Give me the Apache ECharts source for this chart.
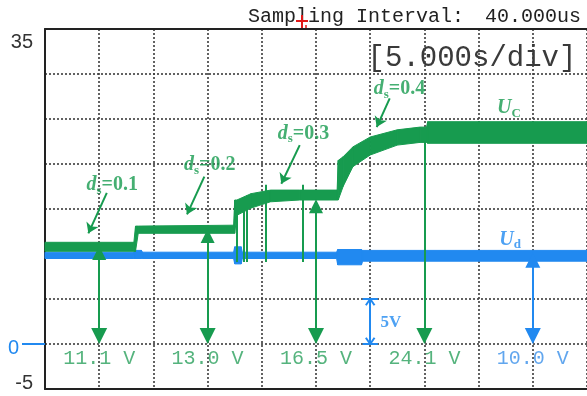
<!DOCTYPE html>
<html>
<head>
<meta charset="utf-8">
<script src="https://cdn.jsdelivr.net/npm/echarts@6/dist/echarts.min.js"></script>
<style>html,body{margin:0;padding:0;background:#fff}#c{width:587px;height:396px}</style>
</head>
<body>
<div id="c"></div>
<script>
// ---------- data (time in s, voltage in V) ----------
const ucTime = [0, 8.2, 8.35, 8.6, 17.4, 17.5, 17.7, 19.0, 20.8, 23.5, 26.95, 27.05, 27.5, 28.4, 30.0, 32.5, 34.6, 35.2, 35.3, 50];
const ucLow  = [10.3, 10.3, 10.3, 12.3, 12.3, 12.3, 14.3, 15.1, 15.8, 16.0, 16.0, 16.0, 17.5, 19.7, 21.0, 22.1, 22.4, 22.4, 22.3, 22.3];
const ucHigh = [11.3, 11.3, 13.1, 13.1, 13.2, 16.0, 16.0, 16.7, 17.1, 17.1, 17.1, 20.4, 20.8, 21.9, 23.0, 23.8, 24.1, 24.1, 24.7, 24.7];

const udTime = [0, 8.2, 8.3, 8.9, 9.0, 17.4, 17.5, 18.1, 18.2, 26.9, 27.0, 29.2, 29.3, 50];
const udLow  = [9.5, 9.5, 9.5, 9.5, 9.5, 9.5, 8.9, 8.9, 9.5, 9.5, 8.8, 8.8, 9.2, 9.2];
const udHigh = [10.2, 10.2, 10.4, 10.4, 10.2, 10.2, 10.8, 10.8, 10.2, 10.2, 10.5, 10.5, 10.4, 10.4];

const spikeTimes  = [17.7, 18.3, 18.6, 20.4, 23.8];
const spikeTop    = [16.0, 16.3, 16.5, 17.7, 17.7];
const spikeBottom = [9.1, 9.1, 9.1, 9.1, 9.1];

const measureTimes = [5, 15, 25, 35, 45];
const measureFrom  = [10.1, 12.0, 15.3, 22.4, 9.3];
const measureTexts = ['11.1 V', '13.0 V', '16.5 V', '24.1 V', '10.0 V'];
const measureChannel = ['C', 'C', 'C', 'C', 'd'];

const dsTexts  = ['0.1', '0.2', '0.3', '0.4'];
const dsLabelAt = [[6.2, 17.7], [15.2, 19.9], [23.85, 23.4], [32.7, 28.3]];
const dsArrowFrom = [[5.7, 16.8], [14.7, 18.6], [23.5, 22.1], [31.8, 27.3]];
const dsArrowTo   = [[4.0, 12.3], [13.1, 14.4], [21.8, 17.8], [30.6, 24.1]];

const traceNames = ['C', 'd'];
const traceLabelAt = [[42.8, 26.2], [42.9, 11.6]];

const scaleBarTime = 30;
const scaleBarRange = [0, 5];
const scaleBarText = '5V';
const scaleBarLabelAt = [31.9, 2.4];

const yLabelValues = [35, 0, -5];
const yLabelTexts  = ['35', '0', '-5'];

// ---------- styles ----------
const GREEN = '#179b4f';
const GREEN_TXT = '#2ba05d';
const BLUE = '#2189f0';
const BLUE_TXT = '#3a90ea';
const GRID = { color: '#3c3c3c', width: 1.6, type: [2, 2] };

function bandRender(color) {
  return function (params, api) {
    const i = params.dataIndexInside;
    if (i >= params.dataInsideLength - 1) return;
    const pts = [
      api.coord([api.value(0, i), api.value(1, i)]),
      api.coord([api.value(0, i), api.value(2, i)]),
      api.coord([api.value(0, i + 1), api.value(2, i + 1)]),
      api.coord([api.value(0, i + 1), api.value(1, i + 1)])
    ];
    return { type: 'polygon', shape: { points: pts }, style: { fill: color, stroke: color, lineWidth: 1 } };
  };
}

const ucData = ucTime.map((t, i) => [t, ucLow[i], ucHigh[i]]);
const udData = udTime.map((t, i) => [t, udLow[i], udHigh[i]]);

const ARROW_END = 0.9; // half arrow-head height, in volts, so the tip meets 0 V
const measureLine = (i) => ({ coords: [[measureTimes[i], measureFrom[i]], [measureTimes[i], scaleBarRange[0] + ARROW_END]] });

const capHalf = 0.7, chevW = 0.4, chevH = 0.7;
const sb0 = scaleBarRange[0], sb1 = scaleBarRange[1], st = scaleBarTime;
const scaleSegs = [
  [[st, sb0], [st, sb1]],
  [[st - capHalf, sb1], [st + capHalf, sb1]],
  [[st - capHalf, sb0], [st + capHalf, sb0]],
  [[st - chevW, sb1 - chevH], [st, sb1]], [[st + chevW, sb1 - chevH], [st, sb1]],
  [[st - chevW, sb0 + chevH], [st, sb0]], [[st + chevW, sb0 + chevH], [st, sb0]]
].map(c => ({ coords: c }));

const serifRich = (color) => ({
  d: { fontFamily: 'Liberation Serif', fontStyle: 'italic', fontWeight: 'bold', fontSize: 20, color: color },
  s: { fontFamily: 'Liberation Serif', fontWeight: 'bold', fontSize: 13, color: color, padding: [11, 0, 0, 0] },
  e: { fontFamily: 'Liberation Serif', fontWeight: 'bold', fontSize: 20, color: color }
});

const chart = echarts.init(document.getElementById('c'));
const option = {
  animation: false,
  grid: { left: 45, right: 0, top: 29, bottom: 7 },
  xAxis: [
    {
      type: 'value', min: 0, max: 50, interval: 5,
      axisLine: { show: true, onZero: false, lineStyle: { color: '#222', width: 2 } },
      axisTick: { show: false }, axisLabel: { show: false },
      splitLine: { show: true, lineStyle: GRID }
    },
    {
      type: 'value', position: 'top', min: 0, max: 50,
      axisLine: { show: true, onZero: false, lineStyle: { color: '#222', width: 2 } },
      axisTick: { show: false }, axisLabel: { show: false }, splitLine: { show: false }
    }
  ],
  yAxis: {
    type: 'value', min: -5, max: 35, interval: 5,
    axisLine: { show: true, onZero: false, lineStyle: { color: '#222', width: 2 } },
    axisTick: { show: false },
    splitLine: { show: true, lineStyle: GRID },
    axisLabel: {
      margin: 0, showMinLabel: true, showMaxLabel: true,
      formatter: function (v) {
        const k = yLabelValues.indexOf(v);
        if (k < 0) return '';
        if (v === 35) return '{a|' + yLabelTexts[k] + '}';
        if (v === 0) return '{z|' + yLabelTexts[k] + '}{ln| }';
        return '{m|' + yLabelTexts[k] + '}';
      },
      rich: {
        a: { fontFamily: 'Liberation Sans', fontSize: 20, color: '#333', padding: [26, 12, 0, 0] },
        z: { fontFamily: 'Liberation Sans', fontSize: 20, color: BLUE, padding: [8, 3, 0, 0] },
        ln: { width: 23, height: 2, fontSize: 2, lineHeight: 2, backgroundColor: BLUE },
        m: { fontFamily: 'Liberation Sans', fontSize: 20, color: '#333', padding: [0, 12, 12, 0] }
      }
    }
  },
  graphic: [
    { type: 'text', x: 248, y: 17, style: { text: 'Sampling Interval:', font: '20px "Liberation Mono"', fill: '#222', align: 'left', verticalAlign: 'middle' } },
    { type: 'text', x: 581, y: 17, style: { text: '40.000us', font: '20px "Liberation Mono"', fill: '#222', align: 'right', verticalAlign: 'middle' } },
    { type: 'text', x: 472, y: 58, style: { text: '[5.000s/div]', font: '29px "Liberation Mono"', fill: '#3a3a3a', align: 'center', verticalAlign: 'middle' } },
    { type: 'line', shape: { x1: 296, y1: 21, x2: 308, y2: 21 }, style: { stroke: '#e01818', lineWidth: 2 } },
    { type: 'line', shape: { x1: 302, y1: 15, x2: 302, y2: 30 }, style: { stroke: '#e01818', lineWidth: 2 } },
    { type: 'line', shape: { x1: 306, y1: 25, x2: 306, y2: 30 }, style: { stroke: '#e01818', lineWidth: 1.5 } }
  ],
  series: [
    { type: 'custom', name: 'Ud', data: udData, encode: { x: 0, y: [1, 2] }, renderItem: bandRender(BLUE), silent: true, z: 3 },
    { type: 'custom', name: 'Uc', data: ucData, encode: { x: 0, y: [1, 2] }, renderItem: bandRender(GREEN), silent: true, z: 4 },
    {
      type: 'lines', coordinateSystem: 'cartesian2d', z: 4, silent: true,
      symbol: ['none', 'none'],
      lineStyle: { color: GREEN, width: 2, opacity: 1 },
      data: spikeTimes.map((t, i) => ({ coords: [[t, spikeTop[i]], [t, spikeBottom[i]]] }))
    },
    {
      type: 'lines', coordinateSystem: 'cartesian2d', z: 5, silent: true,
      symbol: ['triangle', 'triangle'], symbolSize: [14, 16],
      lineStyle: { color: GREEN, width: 2, opacity: 1 },
      data: [0, 1, 2].map(measureLine)
    },
    {
      type: 'lines', coordinateSystem: 'cartesian2d', z: 5, silent: true,
      symbol: ['none', 'triangle'], symbolSize: [0, 16],
      lineStyle: { color: GREEN, width: 2, opacity: 1 },
      data: [3].map(measureLine)
    },
    {
      type: 'lines', coordinateSystem: 'cartesian2d', z: 5, silent: true,
      symbol: ['triangle', 'triangle'], symbolSize: [15, 16],
      lineStyle: { color: BLUE, width: 2, opacity: 1 },
      data: [4].map(measureLine)
    },
    {
      type: 'scatter', z: 6, silent: true, symbolSize: 1, itemStyle: { color: 'transparent' },
      data: measureTimes.map((t, i) => ({
        value: [t, -1.6],
        label: { color: measureChannel[i] === 'd' ? BLUE_TXT : GREEN_TXT }
      })),
      label: {
        show: true, position: 'inside', fontFamily: 'Liberation Mono', fontSize: 20,
        formatter: (p) => measureTexts[p.dataIndex]
      }
    },
    {
      type: 'lines', coordinateSystem: 'cartesian2d', z: 5, silent: true,
      symbol: ['none', 'arrow'], symbolSize: [0, 10],
      lineStyle: { color: GREEN, width: 2, opacity: 1 },
      data: dsArrowFrom.map((f, i) => ({ coords: [f, dsArrowTo[i]] }))
    },
    {
      type: 'scatter', z: 6, silent: true, symbolSize: 1, itemStyle: { color: 'transparent' },
      data: dsLabelAt.map((p) => p),
      label: {
        show: true, position: 'inside',
        formatter: (p) => '{d|d}{s|s}{e|=' + dsTexts[p.dataIndex] + '}',
        rich: serifRich(GREEN)
      }
    },
    {
      type: 'scatter', z: 6, silent: true, symbolSize: 1, itemStyle: { color: 'transparent' },
      data: traceLabelAt.map((p, i) => ({ value: p, label: { rich: serifRich(i === 0 ? GREEN : BLUE) } })),
      label: {
        show: true, position: 'inside',
        formatter: (p) => '{d|U}{s|' + traceNames[p.dataIndex] + '}'
      }
    },
    {
      type: 'lines', coordinateSystem: 'cartesian2d', z: 5, silent: true,
      symbol: ['none', 'none'],
      lineStyle: { color: BLUE, width: 2, opacity: 1 },
      data: scaleSegs
    },
    {
      type: 'scatter', z: 6, silent: true, symbolSize: 1, itemStyle: { color: 'transparent' },
      data: [scaleBarLabelAt],
      label: {
        show: true, position: 'inside', fontFamily: 'Liberation Serif', fontWeight: 'bold', fontSize: 17, color: BLUE,
        formatter: () => scaleBarText
      }
    }
  ]
};
chart.setOption(option);
</script>
</body>
</html>
